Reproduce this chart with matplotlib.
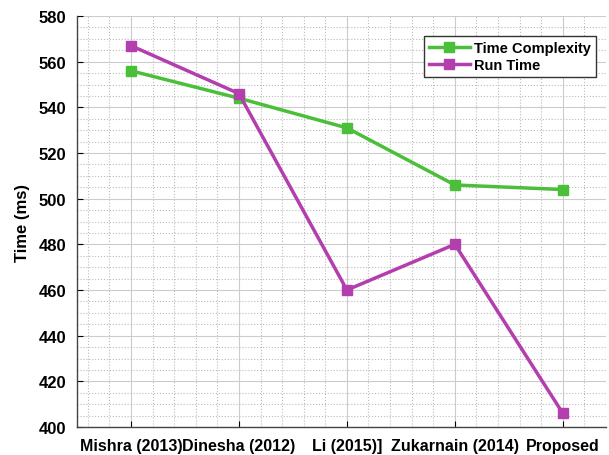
import matplotlib
import numpy as np

matplotlib.use("Agg")
import matplotlib.pyplot as plt
from matplotlib.ticker import MultipleLocator

plt.rcParams["font.family"] = ["Liberation Sans", "DejaVu Sans"]
plt.rcParams["font.weight"] = "bold"

methods = ["Mishra (2013)", "Dinesha (2012)", "Li (2015)]", "Zukarnain (2014)", "Proposed"]
time_complexity = [556, 544, 531, 506, 504]
run_time = [567, 546, 460, 480, 406]

x = np.arange(1, len(methods) + 1)

fig = plt.figure(figsize=(6.09, 4.56), dpi=100)
ax = fig.add_axes([77 / 609, 1 - 428 / 456, (606 - 77) / 609, (428 - 17) / 456])

ax.plot(x, time_complexity, "-s", color="#4cbf3a", linewidth=2.5,
        markersize=7, label="Time Complexity")
ax.plot(x, run_time, "-s", color="#b33fae", linewidth=2.5,
        markersize=7, label="Run Time")

ax.set_xlim(0.5, 5.4)
ax.set_ylim(400, 580)
ax.set_xticks(x)
ax.set_xticklabels(methods, fontsize=11.5, fontweight="bold")
ax.yaxis.set_major_locator(MultipleLocator(20))
ax.xaxis.set_minor_locator(MultipleLocator(0.2))
ax.yaxis.set_minor_locator(MultipleLocator(5))
ax.tick_params(axis="both", which="major", direction="in", length=4,
               labelsize=12, pad=8)
ax.tick_params(axis="x", which="major", labelsize=11.5)
ax.tick_params(axis="both", which="minor", length=0)
ax.set_ylabel("Time (ms)", fontsize=12, fontweight="bold", labelpad=6)

ax.grid(True, which="major", color="#cccccc", linewidth=0.8)
ax.grid(True, which="minor", color="#bbbbbb", linestyle=":", linewidth=0.8)
ax.set_axisbelow(True)
for spine in ax.spines.values():
    spine.set_color("#444444")
    spine.set_linewidth(1.0)
ax.spines["top"].set_visible(False)
ax.spines["right"].set_visible(False)

leg = ax.legend(loc="upper right", bbox_to_anchor=(0.995, 0.97),
                prop={"weight": "bold", "size": 10.5}, fancybox=False,
                framealpha=1, edgecolor="#333333", handlelength=2.8,
                borderpad=0.35, labelspacing=0.25, handletextpad=0.3)

fig.savefig("out.png", dpi=100)
